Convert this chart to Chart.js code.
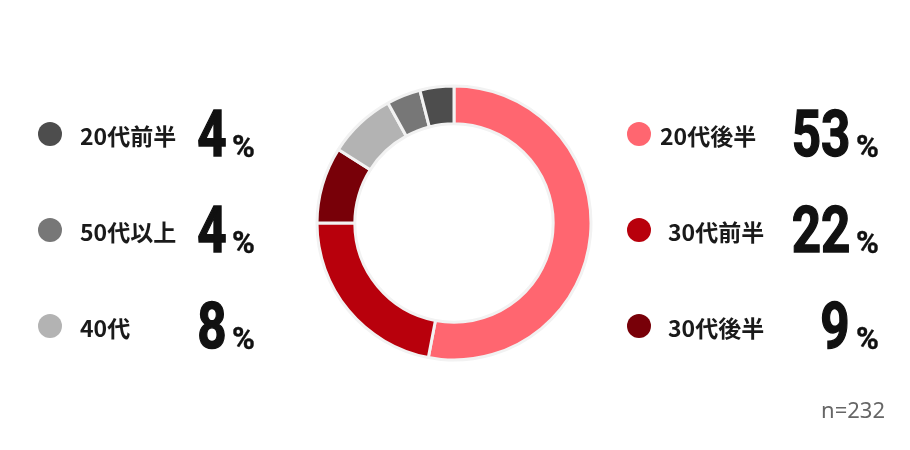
<!DOCTYPE html>
<html lang="ja">
<head>
<meta charset="utf-8">
<script src="https://cdn.jsdelivr.net/npm/chart.js@4/dist/chart.umd.min.js"></script>
<style>
    html, body { margin: 0; padding: 0; background: #fff; }
    #wrap { position: relative; width: 910px; height: 450px; overflow: hidden; }
    #chart { position: absolute; left: 0; top: 0; }
    .dot { position: absolute; width: 24px; height: 24px; border-radius: 50%; }
    .label {
        position: absolute; line-height: 1; white-space: nowrap;
        font-family: "Noto Sans CJK JP", sans-serif; font-weight: 700; font-size: 23px; color: #1a1a1a;
        transform: translateY(-50%);
    }
    .big {
        position: absolute; line-height: 1; white-space: nowrap; color: #111;
        font-family: Roboto, sans-serif; font-weight: 700; font-size: 64px;
        -webkit-text-stroke: 1.4px #111;
        transform: scaleX(0.8); transform-origin: right center;
    }
    .pct {
        position: absolute; line-height: 1; color: #111;
        font-family: Roboto, sans-serif; font-weight: 700; font-size: 31px;
        -webkit-text-stroke: 0.4px #111;
    }
    #sample {
        position: absolute; right: 25px; top: 398px; line-height: 1;
        font-family: "Noto Sans", sans-serif; font-size: 22px; color: #666;
    }
</style>
</head>
<body>
<div id="wrap">
    <canvas id="chart" width="910" height="450"></canvas>
    <div id="sample"></div>
</div>
<script>
// Data
const labels = ['20代後半', '30代前半', '30代後半', '40代', '50代以上', '20代前半'];
const values = [53, 22, 9, 8, 4, 4];
const colors = ['#ff6670', '#b8000c', '#780008', '#b3b3b3', '#777777', '#4d4d4d'];
const leftRows = ['20代前半', '50代以上', '40代'];
const rightRows = ['20代後半', '30代前半', '30代後半'];
const sampleText = 'n=232';

document.addEventListener('DOMContentLoaded', () => {
    const wrap = document.getElementById('wrap');
    document.getElementById('sample').textContent = sampleText;

    // Doughnut
    new Chart(document.getElementById('chart'), {
        type: 'doughnut',
        data: {
            labels: labels,
            datasets: [{
                data: values,
                backgroundColor: colors,
                borderColor: '#f2f2f2',
                borderWidth: 3,
                radius: 137,
                cutout: 101
            }]
        },
        options: {
            responsive: false,
            animation: false,
            events: [],
            layout: { padding: { left: 300, right: 302, top: 82, bottom: 86 } },
            plugins: { legend: { display: false }, tooltip: { enabled: false } }
        }
    });

    // Side legends
    const rowY = [134, 230, 326];
    const sides = [
        { rows: leftRows, dotX: 50, labelX: [80, 80, 80], numRight: 227, gap: 5 },
        { rows: rightRows, dotX: 639, labelX: [660, 668, 668], numRight: 850, gap: 6 }
    ];

    sides.forEach(side => {
        side.rows.forEach((name, r) => {
            const i = labels.indexOf(name);
            const y = rowY[r];
            const baseline = y + 23;

            const dot = document.createElement('div');
            dot.className = 'dot';
            dot.style.left = (side.dotX - 12) + 'px';
            dot.style.top = (y - 12) + 'px';
            dot.style.background = colors[i];
            wrap.appendChild(dot);

            const lab = document.createElement('div');
            lab.className = 'label';
            lab.style.left = side.labelX[r] + 'px';
            lab.style.top = (y + 1) + 'px';
            lab.textContent = name;
            wrap.appendChild(lab);

            const big = document.createElement('div');
            big.className = 'big';
            big.style.right = (910 - side.numRight) + 'px';
            big.style.top = (baseline - 54) + 'px';
            big.textContent = values[i];
            wrap.appendChild(big);

            const pct = document.createElement('div');
            pct.className = 'pct';
            pct.style.left = (side.numRight + side.gap) + 'px';
            pct.style.top = (baseline - 26) + 'px';
            pct.textContent = '%';
            wrap.appendChild(pct);
        });
    });
});
</script>
</body>
</html>
